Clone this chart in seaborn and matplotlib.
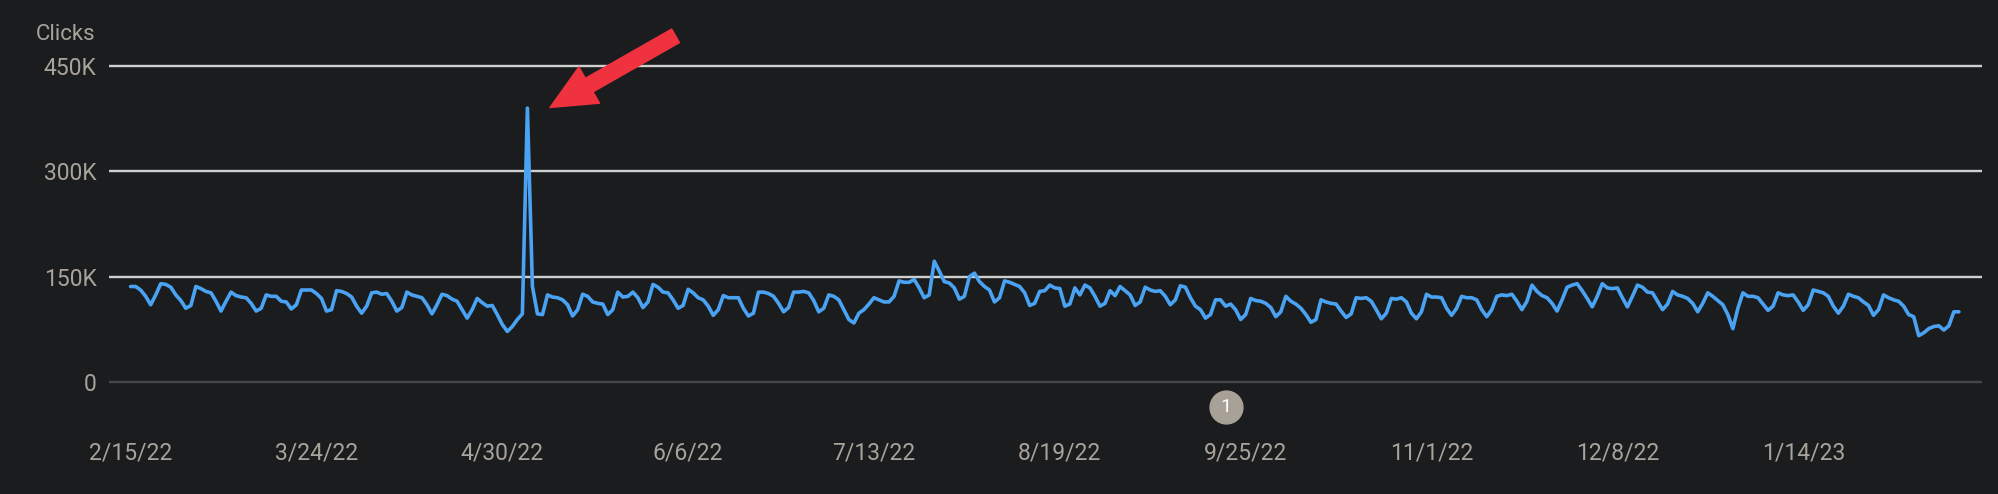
import numpy as np
import pandas as pd
import matplotlib
matplotlib.use("Agg")
import matplotlib.pyplot as plt
import matplotlib.dates as mdates
import matplotlib.transforms as mtransforms
import seaborn as sns

# daily clicks (thousands), 2/15/22 .. 2/14/23
clicks_feb_mar = [136, 136, 131, 122, 110, 124, 140, 139, 135, 124, 116, 105, 109, 136,
                  133, 129, 127, 115, 101, 115, 128, 123, 121, 120, 112, 101, 105, 124,
                  122, 122, 115, 114, 104, 110, 131, 131, 131, 126, 119, 101, 103, 130,
                  129, 126, 121]
clicks_apr_may = [108, 98, 108, 127, 128, 125, 126, 115, 101, 106, 128, 124, 122, 120,
                  110, 97, 110, 125, 123, 118, 115, 103, 91, 103, 119, 113, 108, 109,
                  96, 82, 72, 79, 89, 97, 390, 136, 97, 96, 124, 121, 120, 117, 110,
                  94, 103, 125]
clicks_may_jun = [122, 114, 112, 111, 96, 103, 128, 121, 122, 128, 120, 106, 114, 139,
                  135, 128, 127, 117, 105, 109, 132, 127, 120, 117, 108, 95, 103, 123,
                  120, 120, 120, 105, 94, 98, 128, 128, 126, 122, 112, 100, 106, 128,
                  128, 129, 127, 116]
clicks_jul_aug = [100, 105, 124, 122, 117, 103, 89, 84, 98, 103, 111, 120, 117, 114,
                  114, 122, 144, 142, 142, 146, 134, 120, 124, 172, 158, 143, 141, 134,
                  118, 122, 150, 155, 143, 136, 131, 114, 120, 144, 142, 139, 136, 127,
                  109, 112, 129, 130]
clicks_aug_sep = [138, 134, 133, 108, 111, 134, 124, 138, 134, 122, 108, 112, 130, 123,
                  136, 130, 124, 109, 114, 135, 131, 129, 130, 122, 110, 117, 137, 135,
                  120, 108, 103, 91, 96, 117, 117, 108, 111, 103, 89, 96, 119, 116,
                  115, 112, 106, 93]
clicks_oct_nov = [100, 122, 115, 111, 105, 96, 85, 89, 117, 114, 112, 111, 101, 92,
                  97, 120, 119, 120, 115, 103, 90, 98, 119, 118, 120, 114, 98, 90,
                  100, 125, 121, 121, 120, 105, 95, 105, 122, 120, 120, 117, 103, 93,
                  103, 122, 124, 123]
clicks_nov_dec = [125, 115, 103, 115, 138, 129, 123, 120, 112, 101, 117, 135, 138, 140,
                  130, 119, 107, 122, 140, 134, 133, 134, 120, 107, 122, 138, 135, 128,
                  127, 115, 103, 111, 129, 124, 122, 119, 112, 100, 112, 127, 122, 116,
                  110, 96, 76, 105]
clicks_jan_feb = [127, 122, 122, 120, 111, 102, 108, 127, 124, 123, 124, 114, 102, 110,
                  131, 129, 127, 122, 108, 98, 108, 125, 122, 120, 114, 109, 95, 103,
                  124, 120, 117, 115, 108, 96, 93, 66, 70, 76, 79, 80, 74, 80, 100, 100]

tick_dates = ["2022-02-15", "2022-03-24", "2022-04-30", "2022-06-06", "2022-07-13",
              "2022-08-19", "2022-09-25", "2022-11-01", "2022-12-08", "2023-01-14"]
tick_labels = ["2/15/22", "3/24/22", "4/30/22", "6/6/22", "7/13/22",
               "8/19/22", "9/25/22", "11/1/22", "12/8/22", "1/14/23"]
y_ticks = [0, 150000, 300000, 450000]
y_labels = ["0", "150K", "300K", "450K"]
note_date = "2022-09-21"
note_text = "1"

clicks = (clicks_feb_mar + clicks_apr_may + clicks_may_jun + clicks_jul_aug
          + clicks_aug_sep + clicks_oct_nov + clicks_nov_dec + clicks_jan_feb)
df = pd.DataFrame({
    "date": pd.date_range("2022-02-15", periods=len(clicks), freq="D"),
    "clicks": np.array(clicks) * 1000,
})

BG = "#1b1c1e"
TXT = "#a8a39b"
BLUE = "#4aa3f2"
RED = "#f0323f"

sns.set_style("dark")
plt.rcParams["font.family"] = ["Roboto", "DejaVu Sans"]

fig = plt.figure(figsize=(19.99, 4.94), dpi=100, facecolor=BG)
ax = fig.add_axes([109 / 1999, 0.2182, (1982 - 109) / 1999, 0.8749 - 0.2182])
ax.set_facecolor(BG)

for v in y_ticks:
    ax.axhline(v, color="#cfcfcf" if v > 0 else "#44474a", lw=1.7, zorder=1)

sns.lineplot(data=df, x="date", y="clicks", ax=ax, color=BLUE, lw=2.6, zorder=3)

start = df["date"].iloc[0]
end = df["date"].iloc[-1]
ax.set_xlim(start - pd.Timedelta(days=4.3), end + pd.Timedelta(days=4.6))
ax.set_ylim(-6000, 456000)

ax.set_xticks(pd.to_datetime(tick_dates))
ax.set_xticklabels(tick_labels)
ax.set_yticks(y_ticks)
ax.set_yticklabels(y_labels)
ax.tick_params(axis="x", length=0, pad=40, labelsize=16.5, labelcolor=TXT)
ax.tick_params(axis="y", length=0, pad=9, labelsize=16.5, labelcolor=TXT)
ax.set_xlabel("")
ax.set_ylabel("")
ax.grid(False)
for s in ax.spines.values():
    s.set_visible(False)

fig.text(36 / 1999, 1 - 35 / 494, "Clicks", color=TXT, fontsize=16, va="center", ha="left")

# annotation marker under the axis
trans = mtransforms.blended_transform_factory(ax.transData, ax.transAxes)
nd = mdates.date2num(pd.Timestamp(note_date))
ax.scatter([nd], [-0.064], s=560, color="#a7a197", transform=trans, clip_on=False, zorder=5)
ax.text(nd, -0.064, note_text, transform=trans, color="white", fontsize=14,
        ha="center", va="center", zorder=6)

# red arrow pointing at the spike
spike_date = df["date"].iloc[int(np.argmax(df["clicks"]))]
tip = mdates.date2num(spike_date + pd.Timedelta(days=4.5))
tail = mdates.date2num(spike_date + pd.Timedelta(days=29.5))
ax.annotate("", xy=(tip, 391000), xytext=(tail, 493000), annotation_clip=False,
            arrowprops=dict(arrowstyle="simple,head_length=1.3,head_width=1.2,tail_width=0.45",
                            color=RED, mutation_scale=25, shrinkA=0, shrinkB=0))

fig.savefig("out.png", dpi=100, facecolor=BG)
